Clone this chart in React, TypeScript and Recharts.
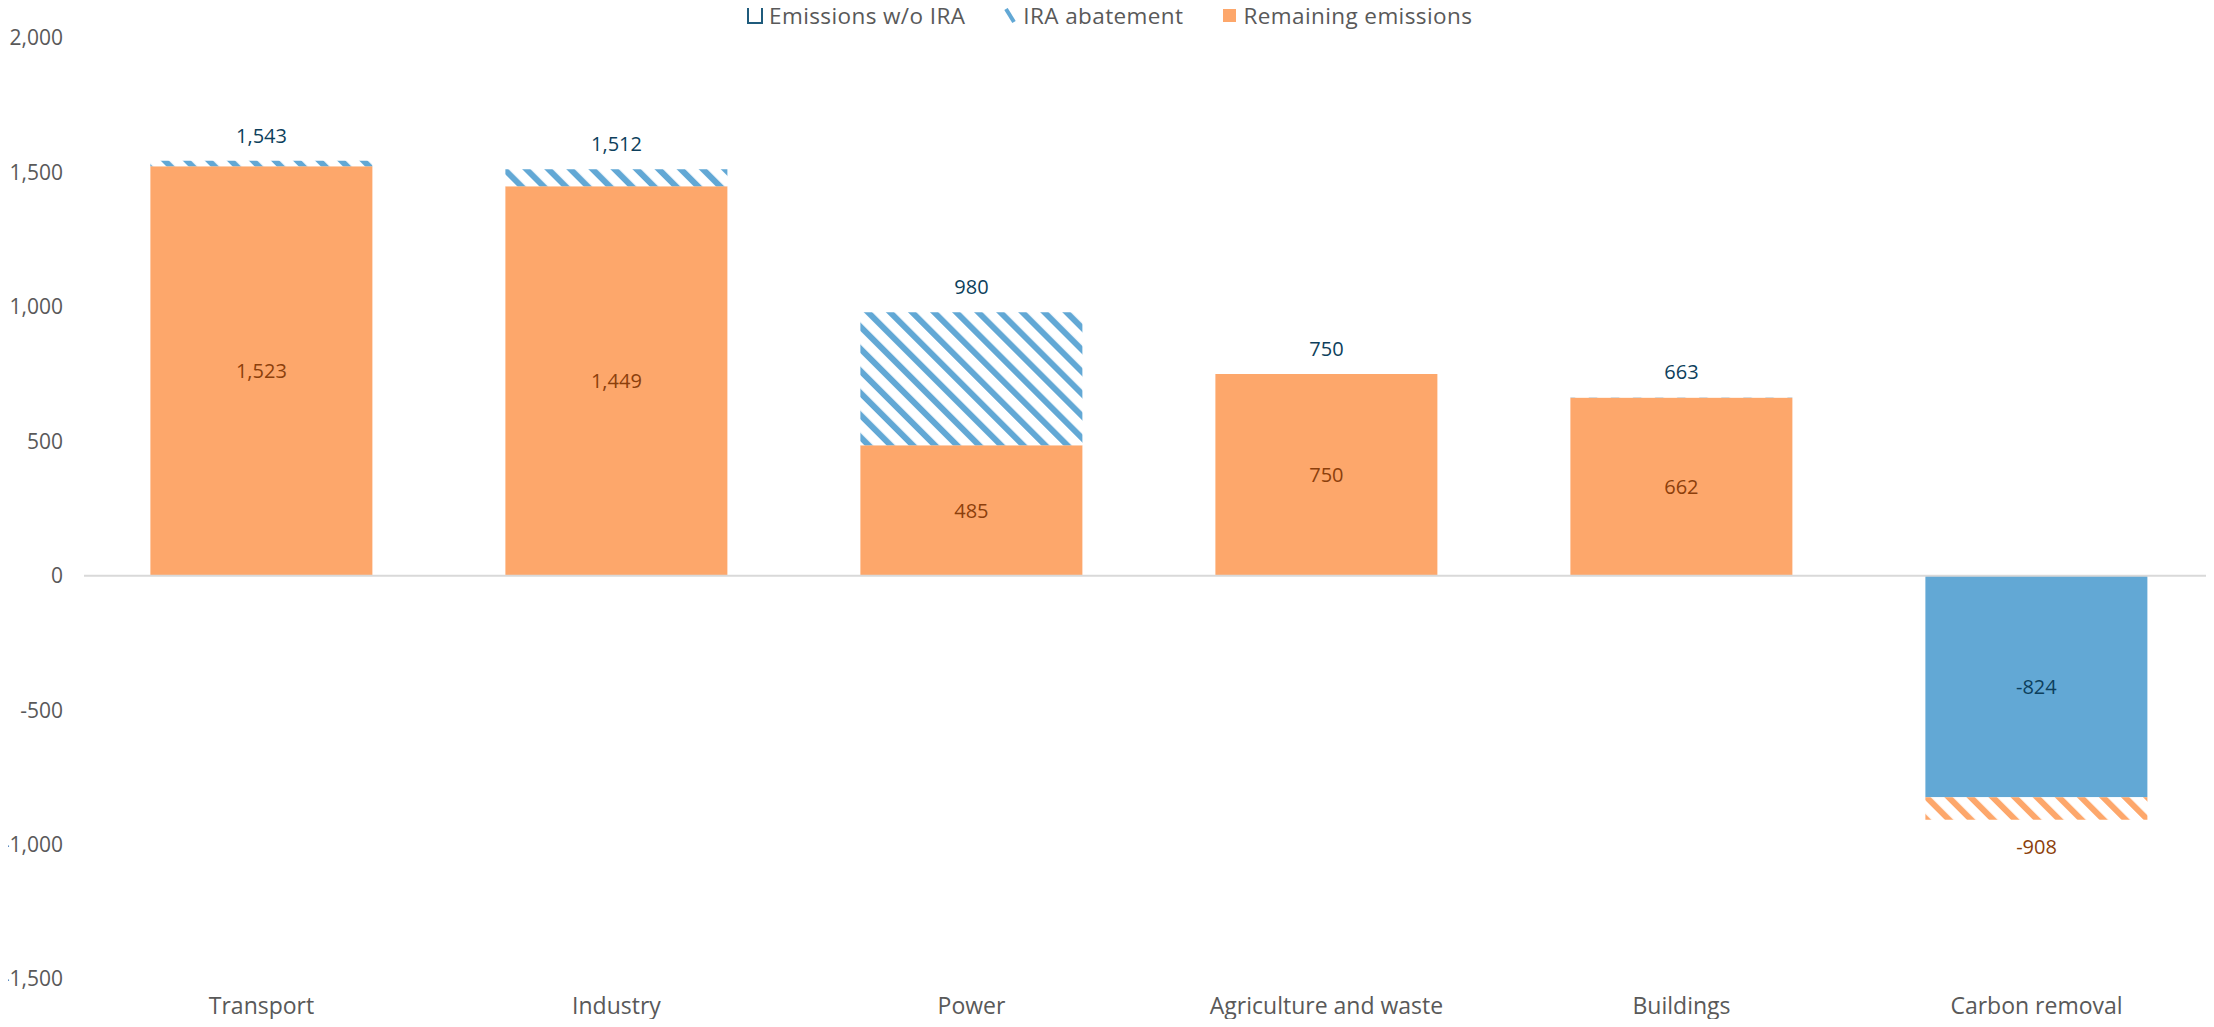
import React from 'react';
import {
  ComposedChart, Bar, Line, XAxis, YAxis, ReferenceLine, LabelList,
} from 'recharts';

const categories = ['Transport', 'Industry', 'Power', 'Agriculture and waste', 'Buildings', 'Carbon removal'];
const remaining = [1523, 1449, 485, 750, 662, null];
const abatement = [20, 63, 495, 0, 1, null];
const withoutIra = [1543, 1512, 980, 750, 663, null];
const removalWithoutIra = [null, null, null, null, null, -824];
const removalIra = [null, null, null, null, null, -84];
const removalTotal = [null, null, null, null, null, -908];
const yTicks = [-1500, -1000, -500, 0, 500, 1000, 1500, 2000];

const ORANGE = '#fda76b';
const BLUE = '#62a8d5';
const DARK_BLUE = '#0d3f5c';
const DARK_ORANGE = '#8c3f0b';
const GREY_TEXT = '#595959';
const FONT = '"Open Sans", sans-serif';

const data = categories.map((name, i) => ({
  name,
  remaining: remaining[i],
  abatement: abatement[i],
  withoutIra: withoutIra[i],
  removalWithoutIra: removalWithoutIra[i],
  removalIra: removalIra[i],
  removalTotal: removalTotal[i],
}));

const fmt = (v: any) => (v == null || v === '' ? '' : Number(v).toLocaleString('en-US'));

const Legend = () => (
  <div style={{
    position: 'absolute', top: 0, left: 747, height: 30, display: 'flex', alignItems: 'center',
    fontFamily: FONT, fontSize: 22.5, color: GREY_TEXT, whiteSpace: 'nowrap', letterSpacing: 0.4,
  }}>
    <svg width={16} height={18} style={{ marginRight: 6 }}>
      <rect x={1} y={1} width={14} height={16} fill="#fff" stroke="#1f5b7c" strokeWidth={2} />
    </svg>
    <span>Emissions w/o IRA</span>
    <svg width={14} height={17} style={{ marginLeft: 38, marginRight: 6 }}>
      <line x1={3} y1={2} x2={11} y2={15} stroke={BLUE} strokeWidth={4} />
    </svg>
    <span>IRA abatement</span>
    <span style={{ width: 13, height: 13, background: ORANGE, marginLeft: 40, marginRight: 7 }} />
    <span>Remaining emissions</span>
  </div>
);

export default function App() {
  return (
    <div style={{ position: 'relative', width: 2214, height: 1027, margin: -8, background: '#fff' }}>
      <svg width={0} height={0} style={{ position: 'absolute' }}>
        <defs>
          <pattern id="hatchBlue" width={15.6} height={15.6} patternUnits="userSpaceOnUse" patternTransform="rotate(-45)">
            <rect width={15.6} height={15.6} fill="#fff" />
            <rect width={6} height={15.6} fill={BLUE} />
          </pattern>
          <pattern id="hatchOrange" width={15.6} height={15.6} patternUnits="userSpaceOnUse" patternTransform="rotate(-45)">
            <rect width={15.6} height={15.6} fill="#fff" />
            <rect width={6} height={15.6} fill={ORANGE} />
          </pattern>
        </defs>
      </svg>
      <ComposedChart
        width={2214}
        height={1027}
        data={data}
        stackOffset="sign"
        barCategoryGap="18.7%"
        margin={{ top: 38, right: 0, bottom: 0, left: 0 }}
      >
        <XAxis
          dataKey="name"
          axisLine={false}
          tickLine={false}
          height={48}
          tickMargin={13}
          tick={{ fill: GREY_TEXT, fontSize: 23, fontFamily: FONT }}
        />
        <YAxis
          domain={[-1500, 2000]}
          ticks={yTicks}
          axisLine={false}
          tickLine={false}
          width={84}
          tickMargin={15}
          tickFormatter={fmt}
          tick={{ fill: GREY_TEXT, fontSize: 21, fontFamily: FONT }}
        />
        <ReferenceLine y={0} stroke="#d9d9d9" strokeWidth={2} />
        <Bar dataKey="remaining" stackId="a" fill={ORANGE} isAnimationActive={false}>
          <LabelList dataKey="remaining" position="center" formatter={fmt}
            style={{ fill: DARK_ORANGE, fontSize: 20, fontFamily: FONT }} />
        </Bar>
        <Bar dataKey="abatement" stackId="a" fill="url(#hatchBlue)" isAnimationActive={false} />
        <Bar dataKey="removalWithoutIra" stackId="a" fill={BLUE} isAnimationActive={false}>
          <LabelList dataKey="removalWithoutIra" position="center" formatter={fmt}
            style={{ fill: DARK_BLUE, fontSize: 20, fontFamily: FONT }} />
        </Bar>
        <Bar dataKey="removalIra" stackId="a" fill="url(#hatchOrange)" isAnimationActive={false} />
        <Line dataKey="withoutIra" stroke="none" dot={false} activeDot={false} isAnimationActive={false}>
          <LabelList dataKey="withoutIra" position="top" offset={18} formatter={fmt}
            style={{ fill: DARK_BLUE, fontSize: 20, fontFamily: FONT }} />
        </Line>
        <Line dataKey="removalTotal" stroke="none" dot={false} activeDot={false} isAnimationActive={false}>
          <LabelList dataKey="removalTotal" position="bottom" offset={20} formatter={fmt}
            style={{ fill: DARK_ORANGE, fontSize: 20, fontFamily: FONT }} />
        </Line>
      </ComposedChart>
      <Legend />
    </div>
  );
}
